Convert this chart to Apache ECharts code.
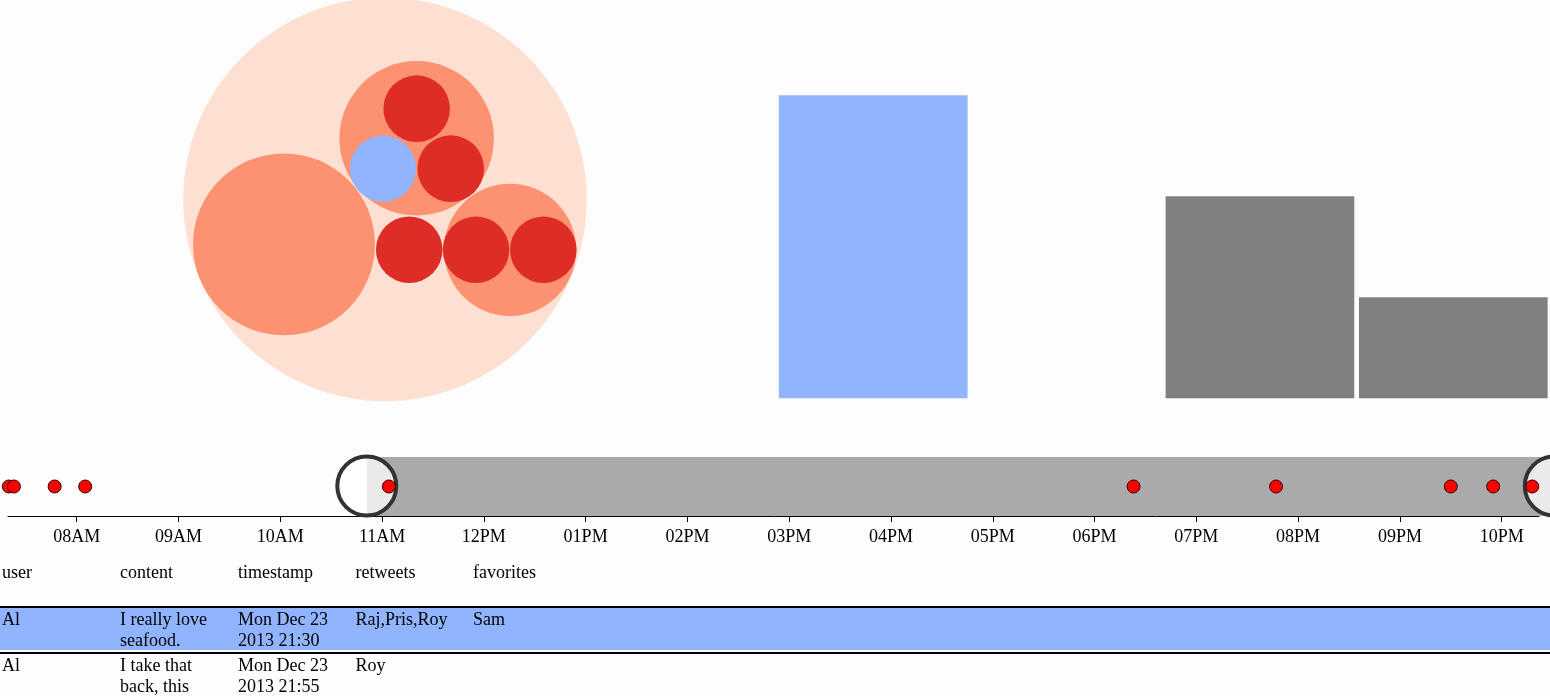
<!DOCTYPE html>
<html>
<head>
<meta charset="utf-8">
<script src="https://cdn.jsdelivr.net/npm/echarts@6/dist/echarts.min.js"></script>
<style>
html, body { margin: 0; padding: 0; background: #fdfdfd; overflow: hidden; }
#main { width: 1550px; height: 696px; }
</style>
</head>
<body>
<div id="main"></div>
<script>
// circle pack (units: outer radius = 100)
var packX = [0, -50.1, 15.7, 15.7, -1.0, 32.6, 12.0, 62.0, 45.1, 78.5];
var packY = [0, -22.6, 30.6, 45.5, 15.4, 15.4, -25.3, -25.3, -25.3, -25.3];
var packR = [100, 45.1, 38.3, 16.5, 16.4, 16.5, 16.5, 32.8, 16.5, 16.5];
var packKind = ['root', 'group', 'group', 'leaf', 'selected', 'leaf', 'leaf', 'group', 'leaf', 'leaf'];

// bars
var users = ['Al', 'Raj', 'Pris', 'Roy'];
var tweetCount = [3, 0, 2, 1];
var selectedUser = 'Al';

// timeline
var tweetTimes = ['07:20', '07:23', '07:47', '08:05', '11:04', '18:23', '19:47', '21:30', '21:55', '22:18'];
var timeMin = '07:19:30';
var timeMax = '22:22';
var brushRange = ['10:51', '22:31'];

// table
var columns = ['user', 'content', 'timestamp', 'retweets', 'favorites'];
var rowUser = ['Al', 'Al'];
var rowContent = ['I really love seafood.', 'I take that back, this'];
var rowTime = ['Mon Dec 23 2013 21:30', 'Mon Dec 23 2013 21:55'];
var rowRetweets = ['Raj,Pris,Roy', 'Roy'];
var rowFavorites = ['Sam', ''];
var selectedRow = 0;

var BLUE = '#91b4fe';
var packColor = { root: '#fee0d2', group: '#fc9272', leaf: '#de2d26', selected: BLUE };
var FONT = '18px "Liberation Serif", "Times New Roman", serif';

function toMs(hm) {
    var p = hm.split(':');
    return Date.UTC(2013, 11, 23, +p[0], +p[1], +(p[2] || 0));
}

function hourLabel(v) {
    var d = new Date(v);
    if (d.getUTCMinutes() !== 0 || d.getUTCSeconds() !== 0) return '';
    var h = d.getUTCHours();
    var h12 = h % 12 || 12;
    return (h12 < 10 ? '0' : '') + h12 + (h < 12 ? 'AM' : 'PM');
}

var packData = packX.map(function (x, i) {
    return [x, packY[i], packR[i], i];
});

var barData = tweetCount.map(function (v, i) {
    return { value: v, itemStyle: { color: users[i] === selectedUser ? BLUE : '#808080' } };
});

var dotData = tweetTimes.map(function (t) { return [toMs(t), 0.5]; });

// table drawn as graphic elements
var colX = [2, 120, 238, 355.5, 473];
var colW = 108;
var graphics = [];
columns.forEach(function (c, i) {
    graphics.push({
        type: 'text', x: colX[i], y: 562.5,
        style: { text: c, font: FONT, fill: '#000', verticalAlign: 'top', lineHeight: 21 }
    });
});
rowUser.forEach(function (u, r) {
    var top = 606 + r * 46;
    graphics.push({ type: 'rect', shape: { x: 0, y: top, width: 1550, height: 2 }, style: { fill: '#000' } });
    if (r === selectedRow) {
        graphics.push({ type: 'rect', shape: { x: 0, y: top + 2, width: 1550, height: 42 }, style: { fill: BLUE } });
    }
    var cells = [u, rowContent[r], rowTime[r], rowRetweets[r], rowFavorites[r]];
    cells.forEach(function (txt, i) {
        graphics.push({
            type: 'text', x: colX[i], y: top + 4.5,
            style: {
                text: txt, font: FONT, fill: '#000', verticalAlign: 'top',
                lineHeight: 20.5, width: colW, overflow: 'break'
            }
        });
    });
});

var myChart = echarts.init(document.getElementById('main'));
var option = {
    backgroundColor: '#fdfdfd',
    useUTC: true,
    animation: false,
    grid: [
        { left: 183.3, top: -4.7, width: 403.4, height: 403.4 },
        { left: 776.5, top: 95.3, width: 777.2, height: 303 },
        { left: 8, top: 457, width: 1531, height: 59 }
    ],
    xAxis: [
        { gridIndex: 0, type: 'value', min: -100, max: 100, show: false },
        { gridIndex: 1, type: 'category', data: users, show: false },
        {
            gridIndex: 2, type: 'time', min: toMs(timeMin), max: toMs(timeMax),
            minInterval: 3600000, maxInterval: 3600000,
            axisLine: { lineStyle: { color: '#000', width: 1 } },
            axisTick: { show: true, length: 6, lineStyle: { color: '#000' } },
            axisLabel: {
                formatter: hourLabel, fontFamily: '"Liberation Serif", serif',
                fontSize: 18, color: '#000', margin: 12, hideOverlap: false
            },
            splitLine: { show: false }
        }
    ],
    yAxis: [
        { gridIndex: 0, type: 'value', min: -100, max: 100, show: false },
        { gridIndex: 1, type: 'value', min: 0, max: 3, show: false },
        { gridIndex: 2, type: 'value', min: 0, max: 1, show: false }
    ],
    graphic: graphics,
    series: [
        {
            type: 'custom', xAxisIndex: 0, yAxisIndex: 0, data: packData,
            renderItem: function (params, api) {
                var c = api.coord([api.value(0), api.value(1)]);
                var r = api.size([api.value(2), 0])[0];
                var kind = packKind[api.value(3)];
                return { type: 'circle', shape: { cx: c[0], cy: c[1], r: r }, style: { fill: packColor[kind] } };
            }
        },
        {
            type: 'bar', xAxisIndex: 1, yAxisIndex: 1, data: barData, barWidth: 188.7
        },
        {
            type: 'custom', xAxisIndex: 2, yAxisIndex: 2, z: 2,
            data: [[toMs(brushRange[0]), toMs(brushRange[1])]],
            renderItem: function (params, api) {
                var a = api.coord([api.value(0), 1]);
                var b = api.coord([api.value(1), 0]);
                var mid = (a[1] + b[1]) / 2 - 0.5;
                var handle = function (x) {
                    return {
                        type: 'circle', shape: { cx: x, cy: mid, r: 29.5 },
                        style: { fill: 'rgba(255,255,255,0.75)', stroke: '#333', lineWidth: 4 }
                    };
                };
                return {
                    type: 'group',
                    children: [
                        { type: 'rect', shape: { x: a[0], y: a[1], width: b[0] - a[0], height: b[1] - a[1] }, style: { fill: '#aaa' } },
                        handle(a[0]),
                        handle(b[0])
                    ]
                };
            }
        },
        {
            type: 'scatter', xAxisIndex: 2, yAxisIndex: 2, z: 3,
            data: dotData, symbolSize: 13,
            itemStyle: { color: '#f00', borderColor: '#300', borderWidth: 1, opacity: 1 }
        }
    ]
};
myChart.setOption(option);
</script>
</body>
</html>
